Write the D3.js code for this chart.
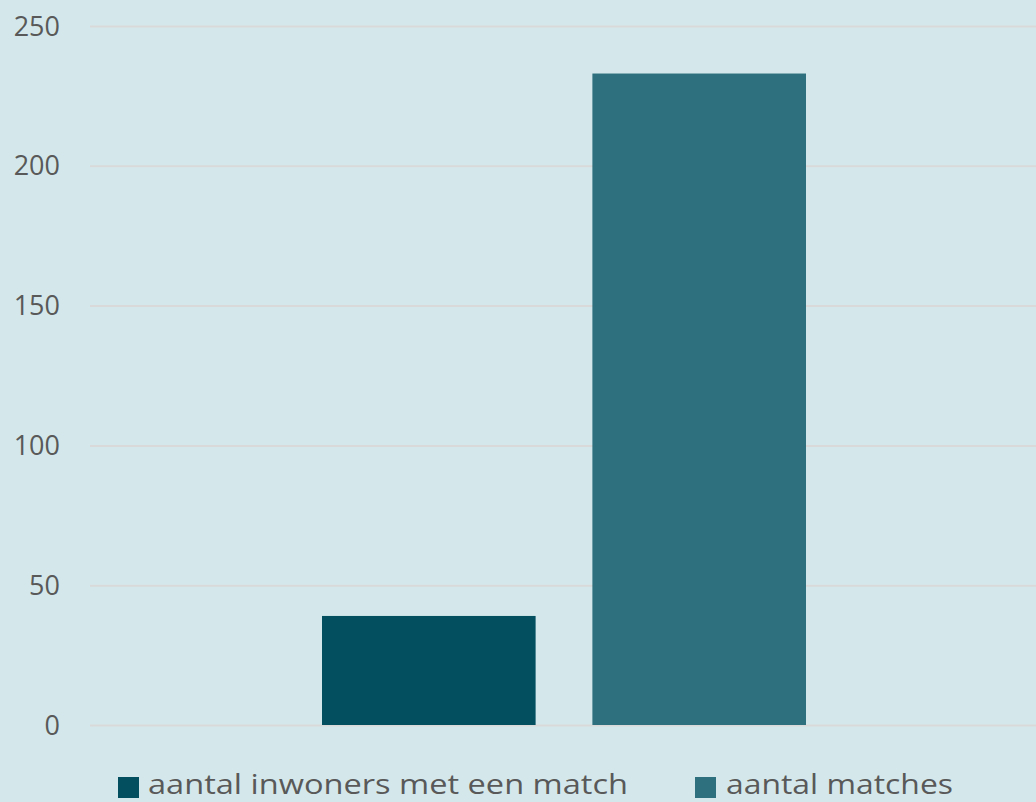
<!DOCTYPE html>
<html><head><meta charset="utf-8">
<script src="https://cdn.jsdelivr.net/npm/d3@7"></script>
<style>html,body{margin:0;padding:0;background:#d4e8eb;}svg{display:block;}</style>
</head><body>
<svg id="chart" width="1036" height="802"></svg>
<script>
const categories = [""];
const seriesNames = ["aantal inwoners met een match", "aantal matches"];
const seriesValues = [39, 233];
const seriesColors = ["#044f5f", "#2e707d"];
const yTicks = [0, 50, 100, 150, 200, 250];

const svg = d3.select("#chart");
const W = 1036, H = 802;
svg.append("rect").attr("width", W).attr("height", H).attr("fill", "#d4e8eb");

const margin = {left: 90, right: 0, top: 26, bottom: 77};
const y = d3.scaleLinear().domain([0, 250]).range([H - margin.bottom, margin.top]);
const x0 = d3.scaleBand().domain(categories).range([margin.left, W - margin.right]).paddingOuter(0);
const groupInner = d3.scaleBand().domain(seriesNames).range([232, 946 - 230]).paddingInner(0.21).paddingOuter(0);

// gridlines
const yAxis = d3.axisLeft(y).tickValues(yTicks).tickSize(-(W - margin.left)).tickFormat(d3.format("d")).tickPadding(30);
const gAxis = svg.append("g").attr("transform", `translate(${margin.left},0)`).call(yAxis);
gAxis.select(".domain").remove();
gAxis.selectAll(".tick line").attr("stroke", "#d9d9d9").attr("stroke-width", 2);
gAxis.selectAll(".tick text").attr("fill", "#595959").attr("font-family", "'Open Sans', sans-serif").attr("font-size", 27).attr("dy", "0.34em");

// bars
const data = seriesNames.map((s, i) => ({s, v: seriesValues[i], c: seriesColors[i], cat: categories[0]}));
svg.append("g").selectAll("rect").data(data).join("rect")
  .attr("x", d => x0(d.cat) + groupInner(d.s))
  .attr("width", groupInner.bandwidth())
  .attr("y", d => y(d.v))
  .attr("height", d => y(0) - y(d.v))
  .attr("fill", d => d.c);

// legend
const legendPos = [{sx: 118, tx: 148, tl: 480}, {sx: 695, tx: 726, tl: 227}];
const lg = svg.append("g");
seriesNames.forEach((s, i) => {
  lg.append("rect").attr("x", legendPos[i].sx).attr("y", 777).attr("width", 21).attr("height", 21).attr("fill", seriesColors[i]);
  lg.append("text").attr("x", legendPos[i].tx).attr("y", 794).text(s)
    .attr("fill", "#595959").attr("font-family", "'Open Sans', sans-serif").attr("font-size", 28)
    .attr("textLength", legendPos[i].tl).attr("lengthAdjust", "spacingAndGlyphs");
});
</script>
</body></html>
